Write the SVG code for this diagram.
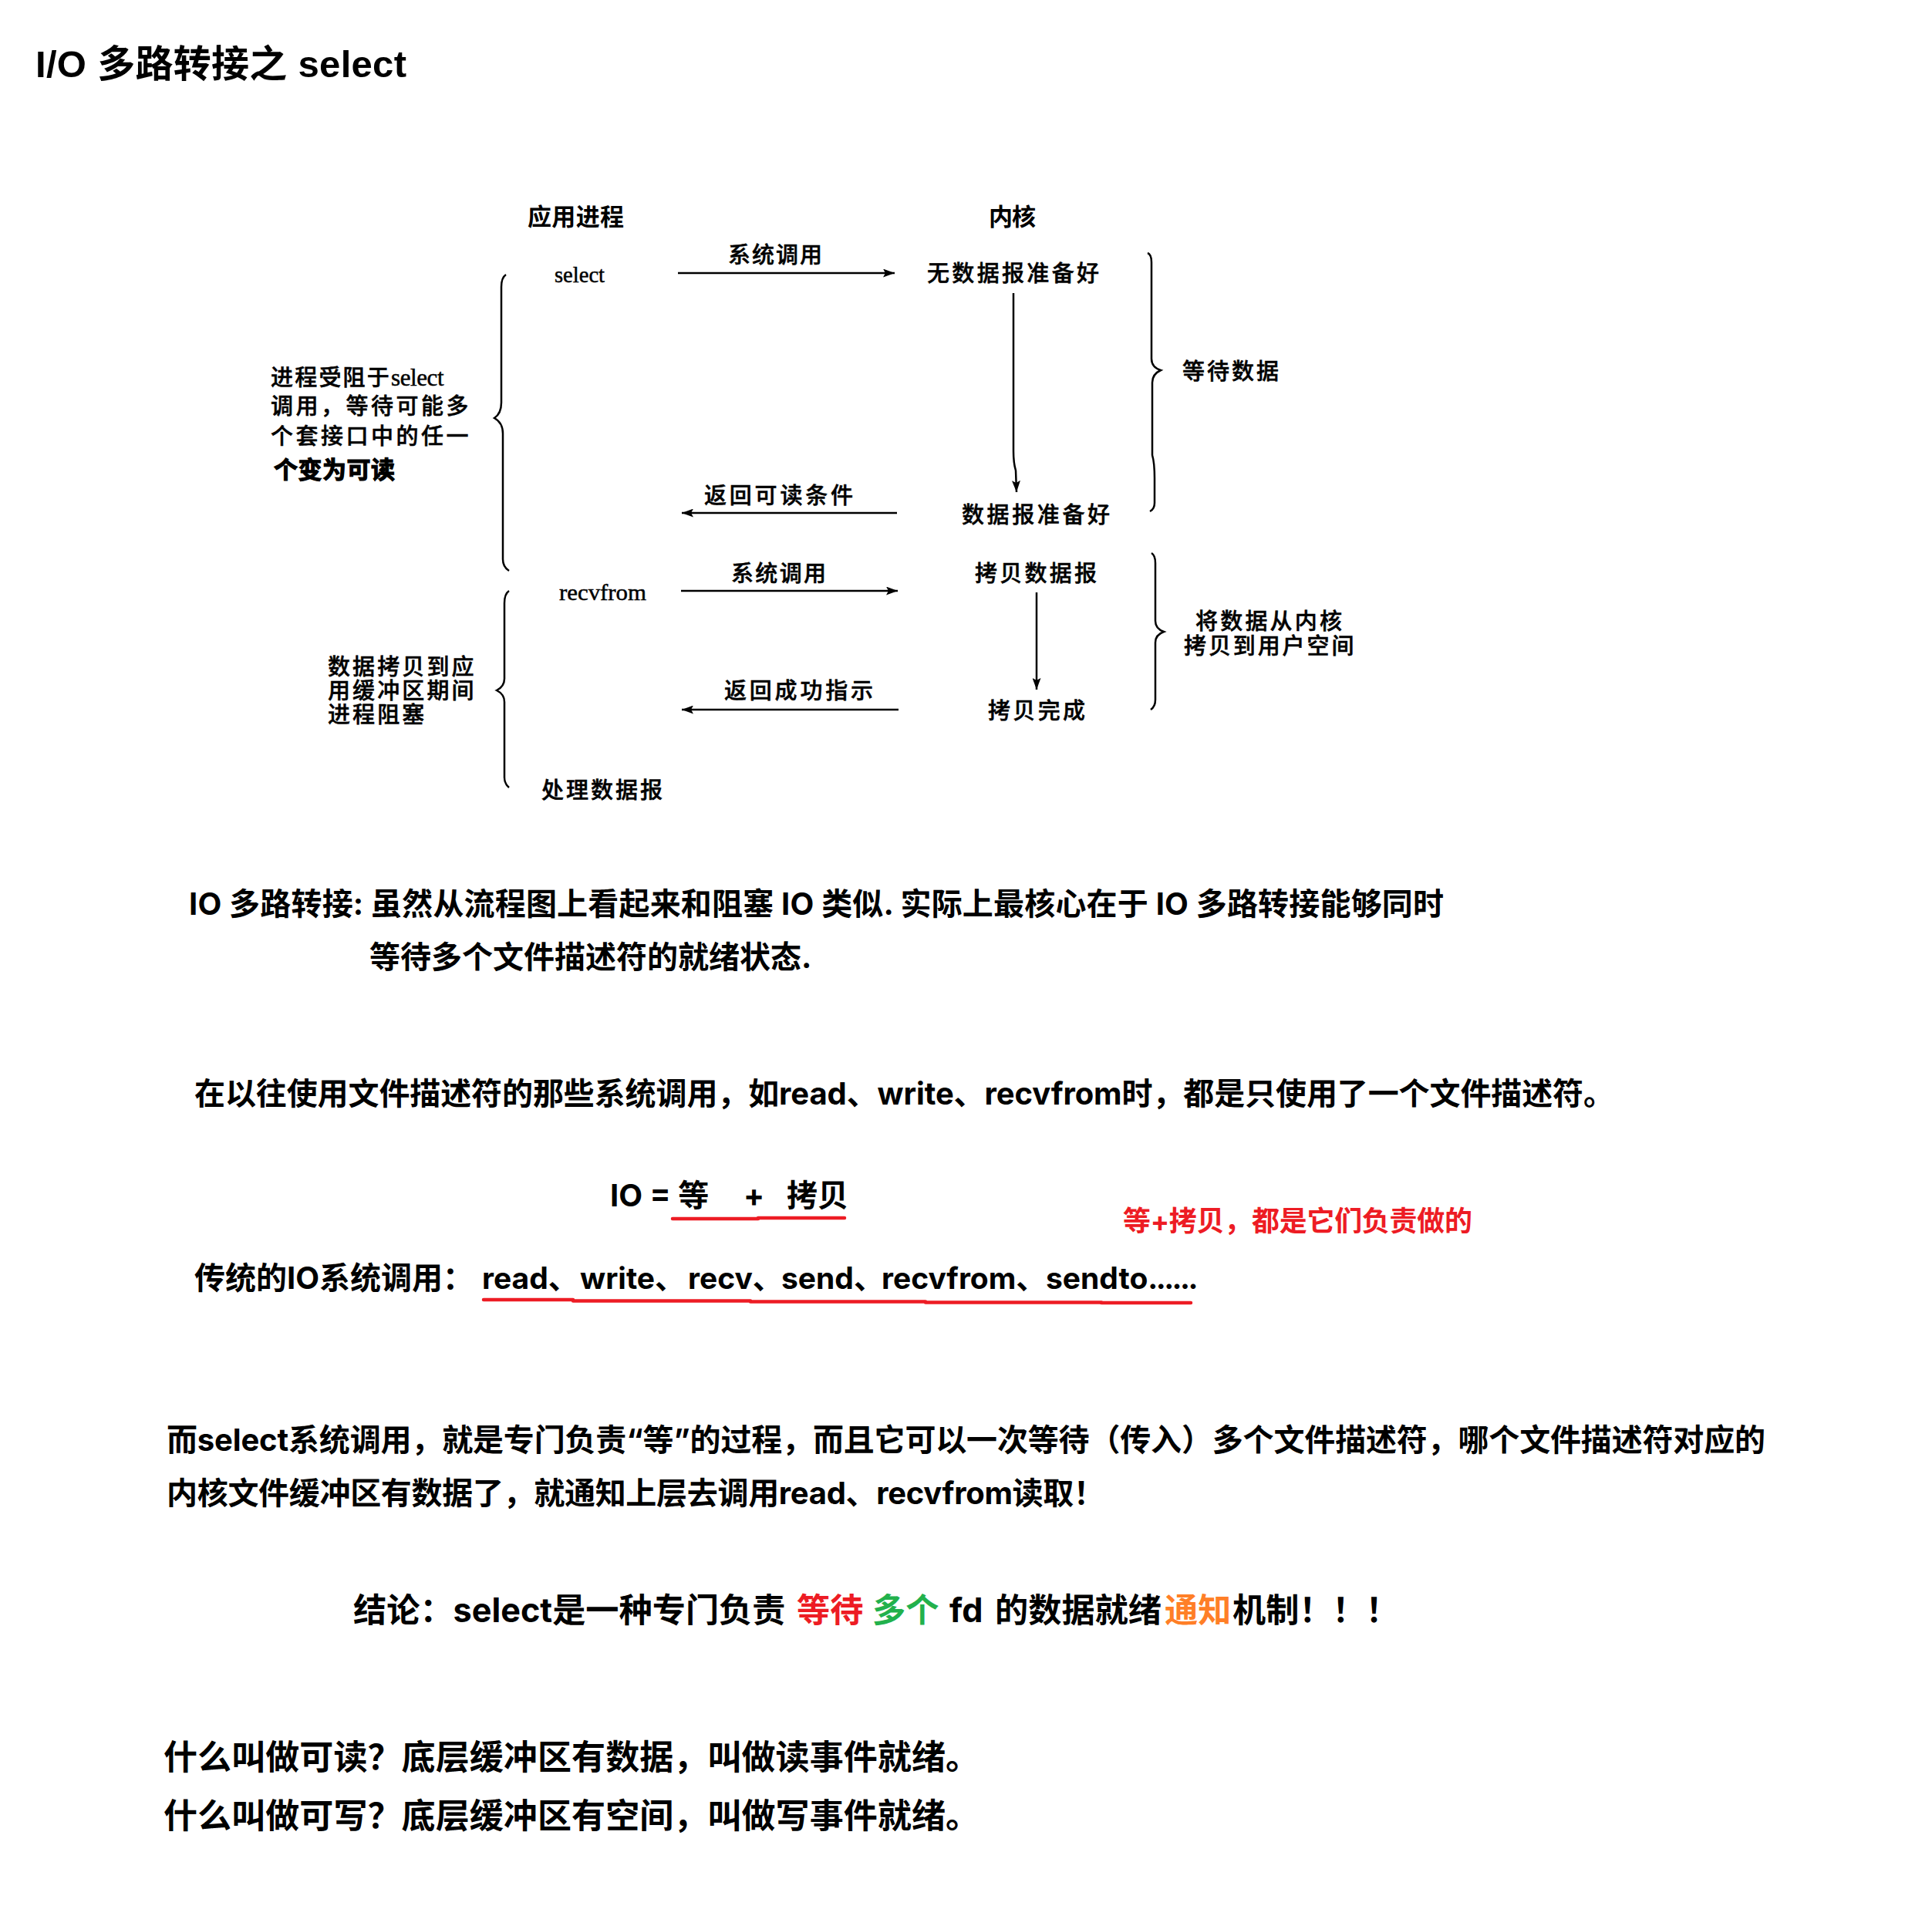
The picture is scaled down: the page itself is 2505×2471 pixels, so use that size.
<svg xmlns="http://www.w3.org/2000/svg" width="2505" height="2471" viewBox="0 0 2505 2471">
<style>
text{fill:#000;white-space:pre}
.title{font:700 49px "Liberation Sans","Noto Sans CJK SC",sans-serif}
.d{font:500 29px "Noto Sans CJK SC",sans-serif;stroke:#000;stroke-width:.5}
.h{font:700 31px "Noto Sans CJK SC",sans-serif}
.s{font:400 30px "Liberation Serif","Noto Sans CJK SC",serif;stroke:#000;stroke-width:.5}
.b{font:700 40px Inter,"Noto Sans CJK SC",sans-serif}
.c{font:700 44px Inter,"Noto Sans CJK SC",sans-serif}
.n{font:700 36px Inter,"Noto Sans CJK SC",sans-serif;fill:#ed1c24}
.line{fill:none;stroke:#000;stroke-width:2.5}
.brace{fill:none;stroke:#000;stroke-width:2.5}
.ul{fill:none;stroke:#ed1c24;stroke-width:4.5;stroke-linecap:round}
</style>
<defs>
<marker id="ah" viewBox="0 0 15 11" refX="15" refY="5.5" markerWidth="15" markerHeight="11" markerUnits="userSpaceOnUse" orient="auto"><path d="M0 0L15 5.5L0 11L3 5.5Z" fill="#000"/></marker>
</defs>
<text id="title" class="title" x="46" y="100" textLength="481">I/O 多路转接之 select</text>
<g id="connectors">
<path class="line" marker-end="url(#ah)" d="M879 354H1160"/>
<path class="line" marker-end="url(#ah)" d="M1163 665H884"/>
<path class="line" marker-end="url(#ah)" d="M883 766H1164"/>
<path class="line" marker-end="url(#ah)" d="M1165 920H884"/>
<path class="line" marker-end="url(#ah)" d="M1314 380V585Q1314 600 1317 610L1318 638"/>
<path class="line" marker-end="url(#ah)" d="M1344 768V894"/>
<path class="brace" d="M656 356Q650 360 650 372V522Q650 536 641 542Q652 548 652 562V725Q652 735 660 740"/>
<path class="brace" d="M660 766Q654 770 654 782V880Q654 890 644 895Q654 900 654 910V1008Q654 1016 660 1021"/>
<path class="brace" d="M1488 328Q1493 330 1493 340V465Q1493 476 1505 480Q1494 485 1494 496V590Q1497 600 1497 620V652Q1497 660 1491 663"/>
<path class="brace" d="M1493 717Q1498 720 1498 730V805Q1498 815 1509 819Q1498 823 1498 833V907Q1498 916 1492 920"/>
<path class="ul" d="M872 1580H983"/>
<path class="ul" d="M983 1579H1095"/>
<path class="ul" d="M627 1685H743"/>
<path class="ul" d="M743 1686.5H973"/>
<path class="ul" d="M973 1687.5H1200"/>
<path class="ul" d="M1200 1688.5H1428"/>
<path class="ul" d="M1428 1689H1544"/>
</g>
<g id="node-app-title"><text class="h" x="684" y="292" textLength="125">应用进程</text></g>
<g id="node-kernel-title"><text class="h" x="1282" y="292" textLength="61">内核</text></g>
<g id="node-select"><text class="s" x="719" y="366" textLength="65" lengthAdjust="spacingAndGlyphs">select</text></g>
<g id="node-call1"><text class="d" x="944" y="341" textLength="122">系统调用</text></g>
<g id="node-nodata"><text class="d" x="1202" y="365" textLength="223">无数据报准备好</text></g>
<g id="node-return1"><text class="d" x="913" y="653" textLength="193">返回可读条件</text></g>
<g id="node-ready"><text class="d" x="1247" y="678" textLength="192">数据报准备好</text></g>
<g id="node-recvfrom"><text class="s" x="725" y="778" textLength="113" lengthAdjust="spacingAndGlyphs">recvfrom</text></g>
<g id="node-call2"><text class="d" x="948" y="754" textLength="123">系统调用</text></g>
<g id="node-copy"><text class="d" x="1264" y="754" textLength="158">拷贝数据报</text></g>
<g id="node-return2"><text class="d" x="939" y="906" textLength="193">返回成功指示</text></g>
<g id="node-copydone"><text class="d" x="1281" y="932" textLength="126">拷贝完成</text></g>
<g id="node-process"><text class="d" x="702" y="1035" textLength="157">处理数据报</text></g>
<g id="node-wait"><text class="d" x="1533" y="492" textLength="125">等待数据</text></g>
<g id="node-copy-note"><text class="d" style="letter-spacing:3.2px"><tspan x="1550" y="816">将数据从内核</tspan><tspan x="1535" y="848" style="letter-spacing:2.9px">拷贝到用户空间</tspan></text></g>
<g id="node-block-note">
<text class="d" style="letter-spacing:3.5px"><tspan x="351" y="500" style="letter-spacing:2.2px">进程受阻于</tspan><tspan class="s" style="letter-spacing:-.4px;font-size:31px">select</tspan><tspan x="351" y="537">调用，等待可能多</tspan><tspan x="351" y="576">个套接口中的任一</tspan><tspan x="355" y="620" style="font-weight:700;font-size:31px;letter-spacing:.5px;stroke-width:1.2">个变为可读</tspan></text>
</g>
<g id="node-copy-block-note">
<text class="d" style="letter-spacing:3.1px"><tspan x="425" y="875">数据拷贝到应</tspan><tspan x="425" y="906">用缓冲区期间</tspan><tspan x="425" y="937">进程阻塞</tspan></text>
</g>
<g id="body">
<text class="b" x="245" y="1186" textLength="1627">IO 多路转接: 虽然从流程图上看起来和阻塞 IO 类似. 实际上最核心在于 IO 多路转接能够同时</text>
<text class="b" x="479" y="1255">等待多个文件描述符的就绪状态.</text>
<text class="b" x="252" y="1432" textLength="1841">在以往使用文件描述符的那些系统调用，如read、write、recvfrom时，都是只使用了一个文件描述符。</text>
<text class="b" x="791" y="1564">IO = 等</text><text class="b" x="964" y="1564">+</text><text class="b" x="1020" y="1564">拷贝</text>
<text class="n" x="1456" y="1596" textLength="453">等+拷贝，都是它们负责做的</text>
<text class="b" x="252" y="1671">传统的IO系统调用：</text>
<text class="b" x="625" y="1671" style="font-size:39px">read、<tspan x="752">write、</tspan><tspan x="892">recv、</tspan><tspan x="1013">send、</tspan><tspan x="1143">recvfrom、</tspan><tspan x="1356">sendto</tspan><tspan style="letter-spacing:-2.6px">......</tspan></text>
<text class="b" x="216" y="1881" textLength="2073">而select系统调用，就是专门负责“等”的过程，而且它可以一次等待（传入）多个文件描述符，哪个文件描述符对应的</text>
<text class="b" x="216" y="1950" textLength="1216">内核文件缓冲区有数据了，就通知上层去调用read、recvfrom读取！</text>
<text class="c" x="458" y="2103" style="font-size:43.2px">结论：select是一种专门负责<tspan x="1033" fill="#ed1c24">等待</tspan><tspan x="1131" fill="#22b14c">多个</tspan><tspan x="1231">fd</tspan><tspan x="1290">的数据就绪</tspan><tspan x="1510" fill="#ff7f27">通知</tspan><tspan x="1598">机制！！！</tspan></text>
<text class="c" x="212" y="2294" textLength="1058">什么叫做可读？底层缓冲区有数据，叫做读事件就绪。</text>
<text class="c" x="212" y="2370" textLength="1058">什么叫做可写？底层缓冲区有空间，叫做写事件就绪。</text>
</g>
</svg>
